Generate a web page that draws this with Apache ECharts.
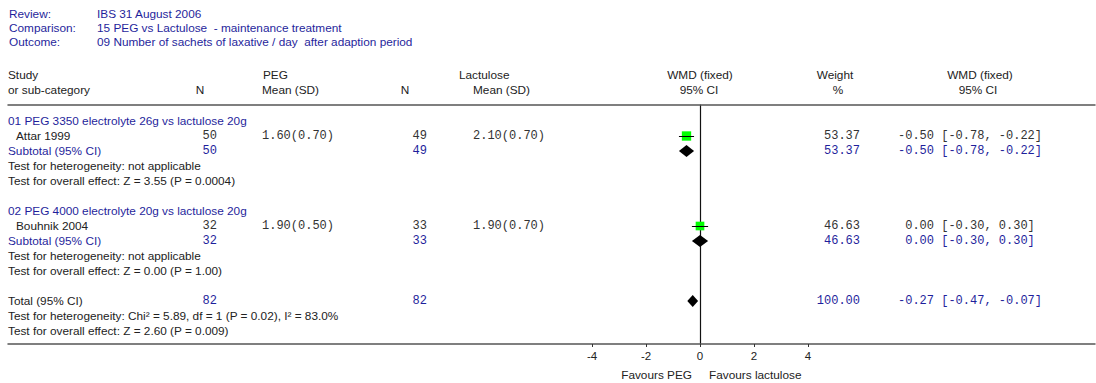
<!DOCTYPE html>
<html><head><meta charset="utf-8">
<script src="https://cdn.jsdelivr.net/npm/echarts@6/dist/echarts.min.js"></script>
<style>html,body{margin:0;padding:0;background:#fff}#c{width:1096px;height:383px}</style>
</head><body><div id="c"></div><script>
// ---- data ----
const infoLabels = ['Review:', 'Comparison:', 'Outcome:'];
const infoValues = ['IBS 31 August 2006', '15 PEG vs Lactulose  - maintenance treatment', '09 Number of sachets of laxative / day  after adaption period'];
const subgroups = ['01 PEG 3350 electrolyte 26g vs lactulose 20g', '02 PEG 4000 electrolyte 20g vs lactulose 20g'];
const studies = ['Attar 1999', 'Bouhnik 2004'];
const pegN = [50, 32];
const pegMean = [1.60, 1.90];
const pegSD = [0.70, 0.50];
const lacN = [49, 33];
const lacMean = [2.10, 1.90];
const lacSD = [0.70, 0.70];
const weights = [53.37, 46.63];
const wmd = [-0.50, 0.00];
const ciLow = [-0.78, -0.30];
const ciHigh = [-0.22, 0.30];
const subPegN = [50, 32];
const subLacN = [49, 33];
const subWeight = [53.37, 46.63];
const subWmd = [-0.50, 0.00];
const subLow = [-0.78, -0.30];
const subHigh = [-0.22, 0.30];
const subHet = ['Test for heterogeneity: not applicable', 'Test for heterogeneity: not applicable'];
const subEffect = ['Test for overall effect: Z = 3.55 (P = 0.0004)', 'Test for overall effect: Z = 0.00 (P = 1.00)'];
const totalPegN = 82, totalLacN = 82, totalWeight = 100.00;
const totalWmd = -0.27, totalLow = -0.47, totalHigh = -0.07;
const totalHet = 'Test for heterogeneity: Chi\u00B2 = 5.89, df = 1 (P = 0.02), I\u00B2 = 83.0%';
const totalEffect = 'Test for overall effect: Z = 2.60 (P = 0.009)';
const xTicks = [-4, -2, 0, 2, 4];
const favours = ['Favours PEG', 'Favours lactulose'];

// ---- layout / style ----
const BLUE = '#1f1f9c', DARK = '#222', MONOC = '#333';
const SANS = '11.8px "Liberation Sans", Arial, sans-serif';
const MONO = '12px "Liberation Mono", "Courier New", monospace';
const col = { study: 8, indent: 16, pegN: 217, pegMean: 262, lacN: 427, lacMean: 473, weight: 860, wmd: 898 };
const ROW0 = 121, ROWH = 15, GTOP = 105, GBOT = 344;
const f2 = v => v.toFixed(2);
const ms = (m, s) => f2(m) + '(' + f2(s) + ')';
const ci = (e, l, h) => f2(e).padStart(5, ' ') + ' [' + f2(l) + ', ' + f2(h) + ']';

// build table cells from the arrays
const cells = [];
const studyMarks = [], diamonds = [];
function cell(row, c, text, color, font, align) { cells.push({ row, c, text: String(text), color, font, align }); }
let r = 0;
for (let g = 0; g < subgroups.length; g++) {
  cell(r, 'study', subgroups[g], BLUE, SANS, 'left'); r++;
  cell(r, 'indent', studies[g], DARK, SANS, 'left');
  cell(r, 'pegN', pegN[g], MONOC, MONO, 'right');
  cell(r, 'pegMean', ms(pegMean[g], pegSD[g]), MONOC, MONO, 'left');
  cell(r, 'lacN', lacN[g], MONOC, MONO, 'right');
  cell(r, 'lacMean', ms(lacMean[g], lacSD[g]), MONOC, MONO, 'left');
  cell(r, 'weight', f2(weights[g]), MONOC, MONO, 'right');
  cell(r, 'wmd', ci(wmd[g], ciLow[g], ciHigh[g]), MONOC, MONO, 'left');
  studyMarks.push([wmd[g], r, ciLow[g], ciHigh[g], weights[g]]);
  r++;
  cell(r, 'study', 'Subtotal (95% CI)', BLUE, SANS, 'left');
  cell(r, 'pegN', subPegN[g], BLUE, MONO, 'right');
  cell(r, 'lacN', subLacN[g], BLUE, MONO, 'right');
  cell(r, 'weight', f2(subWeight[g]), BLUE, MONO, 'right');
  cell(r, 'wmd', ci(subWmd[g], subLow[g], subHigh[g]), BLUE, MONO, 'left');
  diamonds.push([subWmd[g], r, subLow[g], subHigh[g]]);
  r++;
  cell(r, 'study', subHet[g], DARK, SANS, 'left'); r++;
  cell(r, 'study', subEffect[g], DARK, SANS, 'left'); r++;
  r++;
}
cell(r, 'study', 'Total (95% CI)', DARK, SANS, 'left');
cell(r, 'pegN', totalPegN, BLUE, MONO, 'right');
cell(r, 'lacN', totalLacN, BLUE, MONO, 'right');
cell(r, 'weight', f2(totalWeight), BLUE, MONO, 'right');
cell(r, 'wmd', ci(totalWmd, totalLow, totalHigh), BLUE, MONO, 'left');
diamonds.push([totalWmd, r, totalLow, totalHigh]);
r++;
cell(r, 'study', totalHet, DARK, SANS, 'left'); r++;
cell(r, 'study', totalEffect, DARK, SANS, 'left'); r++;

// header graphics (fixed layout text)
const graphics = [];
function gtext(x, y, text, color, align) {
  graphics.push({ type: 'text', x, y, style: { text, fill: color, font: SANS, align: align || 'left', verticalAlign: 'middle', textAlign: align || 'left', textVerticalAlign: 'middle' } });
}
const infoY = [14, 28, 42];
infoLabels.forEach((t, i) => { gtext(9, infoY[i], t, BLUE); gtext(97, infoY[i], infoValues[i], BLUE); });
gtext(8, 75, 'Study', DARK); gtext(8, 90, 'or sub-category', DARK);
gtext(200, 90, 'N', DARK, 'center');
gtext(263, 75, 'PEG', DARK); gtext(262, 90, 'Mean (SD)', DARK);
gtext(405, 90, 'N', DARK, 'center');
gtext(459, 75, 'Lactulose', DARK); gtext(473, 90, 'Mean (SD)', DARK);
gtext(700, 75, 'WMD (fixed)', DARK, 'center'); gtext(699, 90, '95% CI', DARK, 'center');
gtext(835, 75, 'Weight', DARK, 'center'); gtext(838, 90, '%', DARK, 'center');
gtext(980, 75, 'WMD (fixed)', DARK, 'center'); gtext(978, 90, '95% CI', DARK, 'center');
gtext(692, 375, favours[0], DARK, 'right');
gtext(709, 375, favours[1], DARK, 'left');

// axes scale: 0 at x=700, 27 px per unit; grid spans 8..1095
const GL = 8, GR = 1095, X0 = 700, PXU = 27;
const xMin = (GL - X0) / PXU, xMax = (GR - X0) / PXU;
const yMin = (GTOP - ROW0) / ROWH, yMax = (GBOT - ROW0) / ROWH;

const chart = echarts.init(document.getElementById('c'), null, { renderer: 'svg' });
const axisBase = { type: 'value', min: xMin, max: xMax, splitLine: { show: false } };
chart.setOption({
  animation: false,
  backgroundColor: '#fff',
  grid: { left: GL, right: 1096 - GR, top: GTOP, bottom: 383 - GBOT },
  xAxis: [
    Object.assign({}, axisBase, {
      position: 'bottom',
      axisLine: { onZero: false, lineStyle: { color: '#555', width: 1.5 } },
      axisTick: { show: true, customValues: xTicks, length: 3, lineStyle: { color: '#333' } },
      axisLabel: { show: true, customValues: xTicks, margin: 6, color: DARK, fontSize: 11.5, fontFamily: '"Liberation Sans", Arial, sans-serif' }
    }),
    Object.assign({}, axisBase, {
      position: 'top',
      axisLine: { onZero: false, lineStyle: { color: '#555', width: 1.5 } },
      axisTick: { show: false }, axisLabel: { show: false }
    })
  ],
  yAxis: {
    type: 'value', inverse: true, min: yMin, max: yMax,
    axisLine: { show: true, onZero: true, onZeroAxisIndex: 0, lineStyle: { color: '#111', width: 1.2 } },
    axisTick: { show: false }, axisLabel: { show: false }, splitLine: { show: false }
  },
  graphic: graphics,
  series: [
    {
      type: 'custom', name: 'table', clip: false, silent: true,
      data: cells.map((c, i) => [0, c.row, i]),
      encode: { x: 0, y: 1 },
      renderItem: function (params, api) {
        const c = cells[api.value(2)];
        const y = api.coord([0, api.value(1)])[1];
        return {
          type: 'text', x: col[c.c], y: y,
          style: { text: c.text, fill: c.color, font: c.font, align: c.align, verticalAlign: 'middle', textAlign: c.align, textVerticalAlign: 'middle' }
        };
      }
    },
    {
      type: 'custom', name: 'studies', clip: false, silent: true,
      data: studyMarks,
      encode: { x: 0, y: 1 },
      renderItem: function (params, api) {
        const p = api.coord([api.value(0), api.value(1)]);
        const lo = api.coord([api.value(2), api.value(1)]);
        const hi = api.coord([api.value(3), api.value(1)]);
        const s = 4 + api.value(4) * 0.1;
        return {
          type: 'group', children: [
            { type: 'rect', shape: { x: p[0] - s / 2, y: p[1] - s / 2, width: s, height: s }, style: { fill: '#00ff00' } },
            { type: 'line', shape: { x1: lo[0], y1: p[1] + 0.5, x2: hi[0], y2: p[1] + 0.5 }, style: { stroke: '#000', lineWidth: 1 } }
          ]
        };
      }
    },
    {
      type: 'custom', name: 'diamonds', clip: false, silent: true,
      data: diamonds,
      encode: { x: 0, y: 1 },
      renderItem: function (params, api) {
        const p = api.coord([api.value(0), api.value(1)]);
        const lo = api.coord([api.value(2), api.value(1)]);
        const hi = api.coord([api.value(3), api.value(1)]);
        const h = 6;
        return {
          type: 'polygon',
          shape: { points: [[lo[0], p[1]], [p[0], p[1] - h], [hi[0], p[1]], [p[0], p[1] + h]] },
          style: { fill: '#000' }
        };
      }
    }
  ]
});
</script></body></html>
